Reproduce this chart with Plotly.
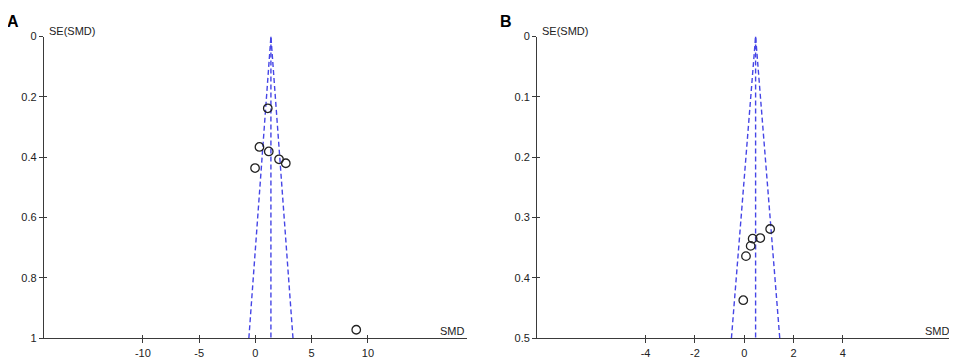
import plotly.graph_objects as go

# ---- data ----
smd_a = [1.10, 0.36, 1.19, 2.10, 2.70, -0.03, 8.96]
se_a = [0.238, 0.366, 0.381, 0.407, 0.420, 0.436, 0.972]
pooled_a = 1.38
se_max_a = 1.0

smd_b = [1.05, 0.65, 0.34, 0.26, 0.07, -0.04]
se_b = [0.319, 0.334, 0.335, 0.347, 0.364, 0.437]
pooled_b = 0.46
se_max_b = 0.5

xticks_a = [-10, -5, 0, 5, 10]
xtext_a = ["-10", "-5", "0", "5", "10"]
yticks_a = [0, 0.2, 0.4, 0.6, 0.8, 1]
ytext_a = ["0", "0.2", "0.4", "0.6", "0.8", "1"]
xticks_b = [-4, -2, 0, 2, 4]
xtext_b = ["-4", "-2", "0", "2", "4"]
yticks_b = [0, 0.1, 0.2, 0.3, 0.4, 0.5]
ytext_b = ["0", "0.1", "0.2", "0.3", "0.4", "0.5"]

FONT = "Liberation Sans Narrow, Liberation Sans, Arial"
AX = "#3a3a3a"
FUN = "#4545e6"
W, H = 957, 362
OFF = 8  # page body margin


def px_x(p):
    return (p - OFF) / W


def px_y(p):
    return (H - (p - OFF)) / H


fig = go.Figure()


def funnel(pooled, se_max, xa, ya):
    z = 1.96
    line = dict(color=FUN, width=1.4, dash="5px,3px")
    fig.add_trace(go.Scatter(x=[pooled, pooled], y=[0, se_max], mode="lines",
                             line=line, xaxis=xa, yaxis=ya, hoverinfo="skip"))
    fig.add_trace(go.Scatter(x=[pooled - z * se_max, pooled, pooled + z * se_max],
                             y=[se_max, 0, se_max], mode="lines",
                             line=line, xaxis=xa, yaxis=ya, hoverinfo="skip"))


def points(x, y, xa, ya):
    fig.add_trace(go.Scatter(x=x, y=y, mode="markers", xaxis=xa, yaxis=ya,
                             marker=dict(symbol="circle-open", size=8.5,
                                         color="#222222", line=dict(width=1.3))))


funnel(pooled_a, se_max_a, "x", "y")
points(smd_a, se_a, "x", "y")
funnel(pooled_b, se_max_b, "x2", "y2")
points(smd_b, se_b, "x2", "y2")
# empty traces so the overlay (inner tick) axes get drawn
fig.add_trace(go.Scatter(x=[], y=[], xaxis="x3", yaxis="y3", mode="markers"))
fig.add_trace(go.Scatter(x=[], y=[], xaxis="x4", yaxis="y4", mode="markers"))

dom_y = [px_y(343.3), px_y(31.3)]
dom_xa = [px_x(44), px_x(467)]
dom_xb = [px_x(537.3), px_x(951.7)]
rng_xa = [-18.78, 18.8]
rng_xb = [-8.39, 8.41]

tickfont = dict(family=FONT, size=11, color="#222")
base = dict(showgrid=False, zeroline=False, tickcolor=AX, tickwidth=1.3)
main = dict(showline=True, linecolor=AX, linewidth=1.4, ticks="outside",
            ticklen=4, tickfont=tickfont, **base)
inner = dict(showline=False, ticks="inside", ticklen=3, showticklabels=False, **base)

fig.update_layout(
    width=W, height=H, margin=dict(l=0, r=0, t=0, b=0),
    paper_bgcolor="white", plot_bgcolor="white", showlegend=False,
    xaxis=dict(domain=dom_xa, range=rng_xa, tickvals=xticks_a, ticktext=xtext_a,
               anchor="y", **main),
    yaxis=dict(domain=dom_y, range=[se_max_a, 0], tickvals=yticks_a,
               ticktext=ytext_a, anchor="x", **main),
    xaxis2=dict(domain=dom_xb, range=rng_xb, tickvals=xticks_b, ticktext=xtext_b,
                anchor="y2", **main),
    yaxis2=dict(domain=dom_y, range=[se_max_b, 0], tickvals=yticks_b,
                ticktext=ytext_b, anchor="x2", **main),
    xaxis3=dict(overlaying="x", range=rng_xa, tickvals=xticks_a, anchor="y3", **inner),
    yaxis3=dict(overlaying="y", range=[se_max_a, 0], tickvals=yticks_a, anchor="x3",
                side="left", **inner),
    xaxis4=dict(overlaying="x2", range=rng_xb, tickvals=xticks_b, anchor="y4", **inner),
    yaxis4=dict(overlaying="y2", range=[se_max_b, 0], tickvals=yticks_b, anchor="x4",
                side="left", **inner),
    annotations=[
        dict(text="<b>A</b>", x=px_x(12.5), y=px_y(16), xref="paper", yref="paper",
             xanchor="center", yanchor="middle", showarrow=False,
             font=dict(family="Liberation Sans", size=16, color="black")),
        dict(text="<b>B</b>", x=px_x(506), y=px_y(16), xref="paper", yref="paper",
             xanchor="center", yanchor="middle", showarrow=False,
             font=dict(family="Liberation Sans", size=16, color="black")),
        dict(text="SE(SMD)", x=px_x(47), y=px_y(25.5), xref="paper", yref="paper",
             xanchor="left", yanchor="middle", showarrow=False, font=tickfont),
        dict(text="SE(SMD)", x=px_x(540), y=px_y(25.5), xref="paper", yref="paper",
             xanchor="left", yanchor="middle", showarrow=False, font=tickfont),
        dict(text="SMD", x=px_x(467), y=px_y(336), xref="paper", yref="paper",
             xanchor="right", yanchor="middle", showarrow=False, font=tickfont),
        dict(text="SMD", x=px_x(952), y=px_y(336), xref="paper", yref="paper",
             xanchor="right", yanchor="middle", showarrow=False, font=tickfont),
    ],
)

fig.write_html("out.html")
